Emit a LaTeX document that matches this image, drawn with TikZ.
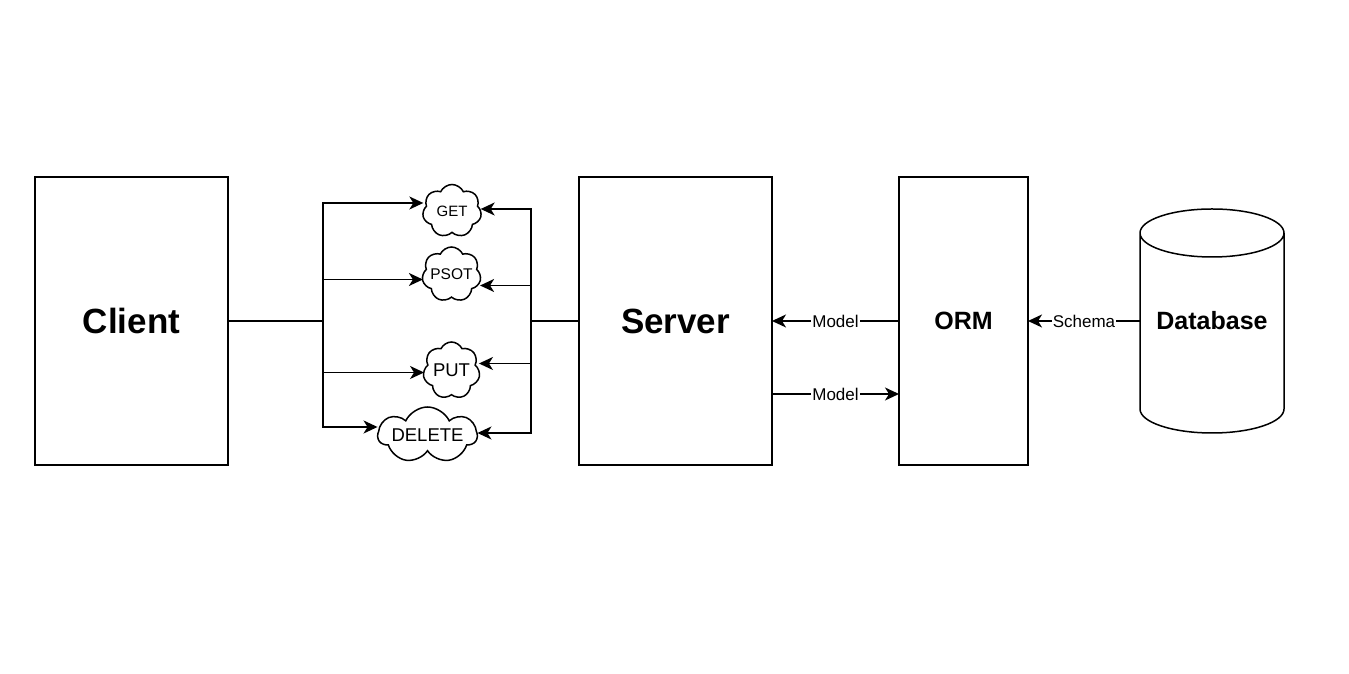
\documentclass[tikz,border=0pt]{standalone}
\usepackage{fontspec}
\setmainfont{Liberation Sans}
\usetikzlibrary{shapes.symbols, arrows.meta, positioning, calc}

\begin{document}
\begin{tikzpicture}[
    x=1pt, y=1pt,
    box/.style={rectangle, draw, line width=1.5pt, minimum height=288pt, outer sep=0pt, font=\bfseries\fontsize{35}{42}\selectfont},
    cloudbox/.style={cloud, draw, line width=1.5pt, cloud puffs=7, cloud puff arc=130, cloud ignores aspect, outer sep=0pt},
    arrow/.style={-{Stealth[length=14pt, width=13pt, inset=4pt]}, line width=1.5pt},
    lbl/.style={fill=white, inner sep=1pt, font=\fontsize{17}{20}\selectfont}
]
\useasboundingbox (0,0) rectangle (1349,674);

% Main blocks
\node[box, minimum width=193pt] (client) at (131.5,353) {Client};
\node[box, minimum width=193pt, right=351pt of client] (server) {Server};
\node[box, minimum width=129pt, right=127pt of server, font=\bfseries\fontsize{25}{30}\selectfont] (orm) {ORM};
\node[minimum width=144pt, minimum height=224pt, outer sep=0pt, right=112pt of orm, font=\bfseries\fontsize{25}{30}\selectfont] (db) {Database};

% Database outline
\draw[line width=1.5pt] ([yshift=-24pt]db.north west) -- ([yshift=24pt]db.south west)
    arc[start angle=180, end angle=360, x radius=72pt, y radius=24pt]
    -- ([yshift=-24pt]db.north east)
    arc[start angle=0, end angle=360, x radius=72pt, y radius=24pt];

% Request clouds
\node[cloudbox, minimum width=59pt, minimum height=53pt, label={[font=\fontsize{15}{18}\selectfont]center:GET}] (get) at (452,463) {};
\node[cloudbox, minimum width=59pt, minimum height=55pt, label={[font=\fontsize{15.5}{18}\selectfont]center:PSOT}] (psot) at (451.5,399.5) {};
\node[cloudbox, minimum width=57pt, minimum height=57pt, label={[font=\fontsize{18.5}{22}\selectfont]center:PUT}] (put) at (451.5,303.5) {};
\node[cloudbox, minimum width=99pt, minimum height=56pt, label={[font=\fontsize{18.5}{22}\selectfont]center:DELETE}] (delete) at (427.5,239) {};

% Buses
\coordinate (lbus) at (323,353);
\coordinate (rbus) at (531,353);

\draw[line width=1.5pt] (client.east) -- (lbus);
\draw[line width=1.5pt] (server.west) -- (rbus);

\draw[arrow] (lbus) |- ([yshift=8pt]get.west);
\draw[arrow] (lbus) |- ([yshift=-5pt]psot.west);
\draw[arrow] (lbus) |- ([yshift=-2pt]put.west);
\draw[arrow] (lbus) |- ([yshift=8pt]delete.west);

\draw[arrow] (rbus) |- ([yshift=2pt]get.east);
\draw[arrow] (rbus) |- ([yshift=-11pt]psot.east);
\draw[arrow] (rbus) |- ([yshift=7pt]put.east);
\draw[arrow] (rbus) |- ([yshift=2pt]delete.east);

% Model and schema
\draw[arrow] (orm.west) -- node[lbl] {Model} (server.east);
\draw[arrow] ([yshift=-73pt]server.east) -- node[lbl] {Model} ([yshift=-73pt]orm.west);
\draw[arrow] (db.west) -- node[lbl] {Schema} (orm.east);

\end{tikzpicture}
\end{document}
